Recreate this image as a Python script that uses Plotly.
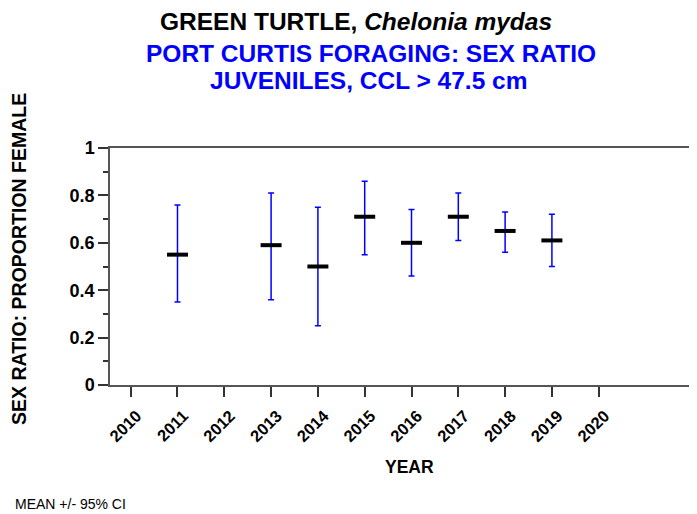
import plotly.graph_objects as go

years = [2011, 2013, 2014, 2015, 2016, 2017, 2018, 2019]
mean_female = [0.55, 0.59, 0.50, 0.71, 0.60, 0.71, 0.65, 0.61]
ci_upper = [0.76, 0.81, 0.75, 0.86, 0.74, 0.81, 0.73, 0.72]
ci_lower = [0.35, 0.36, 0.25, 0.55, 0.46, 0.61, 0.56, 0.50]
tick_years = list(range(2010, 2021))
y_ticks = [0, 0.2, 0.4, 0.6, 0.8, 1]

err_plus = [u - m for u, m in zip(ci_upper, mean_female)]
err_minus = [m - l for m, l in zip(mean_female, ci_lower)]

FONT = "Liberation Sans, Arial, sans-serif"

# page has an 8px body margin
OFF = 8
W, H = 697 - OFF, 514 - OFF
l, r, t, b = 110 - OFF, 0, 148 - OFF, 514 - 385
pw, ph = W - l - r, H - t - b

def px(xpage):
    return (xpage - OFF - l) / pw

def py(ypage):
    return (H - b - (ypage - OFF)) / ph

fig = go.Figure()
fig.add_trace(go.Scatter(
    x=years, y=mean_female, mode="markers",
    marker=dict(symbol="line-ew", size=15, color="black",
                line=dict(color="black", width=4)),
    error_y=dict(type="data", symmetric=False, array=err_plus, arrayminus=err_minus,
                 color="#0000ff", thickness=1.5, width=3),
    showlegend=False, cliponaxis=False,
))

fig.update_layout(
    width=W, height=H,
    margin=dict(l=l, r=r, t=t, b=b),
    paper_bgcolor="white", plot_bgcolor="white",
    font=dict(family=FONT, color="black"),
    xaxis=dict(
        range=[2009.558, 2022.1], tickmode="array", tickvals=tick_years,
        ticktext=[str(y) for y in tick_years], tickangle=-45,
        ticks="outside", ticklen=10, tickwidth=1.5, tickcolor="#333",
        showline=True, linecolor="#555", linewidth=1.5, mirror=True,
        showgrid=False, zeroline=False,
        ticklabelshift=6, ticklabelstandoff=3,
        tickfont=dict(size=16.5, family=FONT, color="black", weight="bold"),
    ),
    yaxis=dict(
        range=[0, 1], tickmode="array", tickvals=y_ticks,
        ticktext=["0", "0.2", "0.4", "0.6", "0.8", "1"],
        ticks="outside", ticklen=10, tickwidth=1.5, tickcolor="#333",
        minor=dict(dtick=0.1, ticks="outside", ticklen=5, tickwidth=1.5, tickcolor="#333", showgrid=False),
        showline=True, linecolor="#555", linewidth=1.5,
        showgrid=False, zeroline=False,
        tickfont=dict(size=18, family=FONT, color="black", weight="bold"),
    ),
    annotations=[
        dict(text="<b>GREEN TURTLE, <i>Chelonia mydas</i></b>", x=px(355.5), y=py(21),
             font=dict(size=24.5, color="black", family=FONT)),
        dict(text="<b>PORT CURTIS FORAGING: SEX RATIO</b>", x=px(370.5), y=py(53),
             font=dict(size=24.5, color="#0000ff", family=FONT)),
        dict(text="<b>JUVENILES, CCL &gt; 47.5 cm</b>", x=px(369), y=py(81),
             font=dict(size=24.5, color="#0000ff", family=FONT)),
        dict(text="<b>YEAR</b>", x=px(409), y=py(467),
             font=dict(size=17.5, color="black", family=FONT)),
        dict(text="<b>SEX RATIO: PROPORTION FEMALE</b>", x=px(19), y=py(259), textangle=-90,
             font=dict(size=19.5, color="black", family=FONT)),
        dict(text="MEAN +/- 95% CI", x=px(13), y=py(504), xanchor="left",
             font=dict(size=14, color="black", family=FONT)),
    ],
)
for a in fig.layout.annotations:
    a.xref = "paper"; a.yref = "paper"; a.showarrow = False
    a.yanchor = "middle"
    if a.xanchor is None:
        a.xanchor = "center"

fig.write_html("out.html")
